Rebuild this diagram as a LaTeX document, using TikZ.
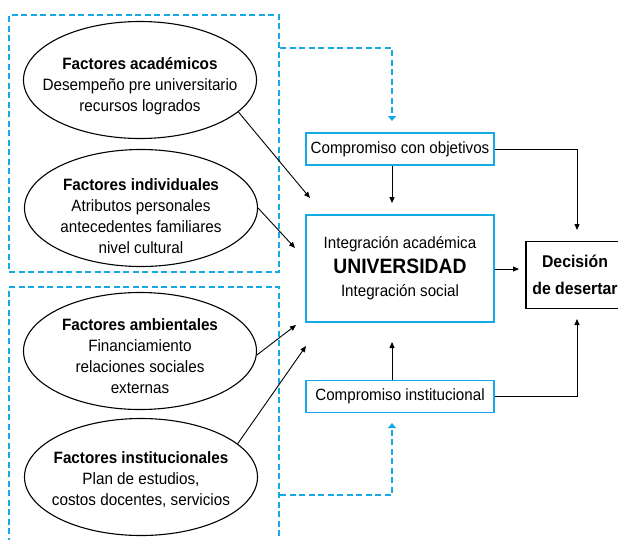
\documentclass[tikz,border=0pt]{standalone}
\usepackage{fontspec}
\setmainfont[FakeStretch=0.93]{Liberation Sans}
\usetikzlibrary{arrows.meta,shapes.geometric}
\definecolor{dblue}{RGB}{20,170,230}
\begin{document}
\begin{tikzpicture}[x=1pt,y=-1pt,
  fell/.style={draw, ellipse, minimum width=233pt, minimum height=117pt, inner sep=0pt, line width=1.1pt},
  ftxt/.style={align=center, font=\fontsize{16.4}{21}\selectfont, inner sep=0pt},
  bbox/.style={draw=dblue, line width=1.4pt, rectangle, inner sep=0pt, minimum width=188pt},
  dgroup/.style={draw=dblue, line width=2.2pt, dash pattern=on 6pt off 3.5pt, rectangle, inner sep=0pt},
  dline/.style={draw=dblue, line width=2.2pt, dash pattern=on 6pt off 3.5pt, -{Triangle[length=5pt,width=8pt]}},
  arr/.style={-{Triangle[length=6pt,width=5pt]}, line width=0.9pt}]
\useasboundingbox (0,0) rectangle (618,539);
\clip (0,0) rectangle (618,539);
% group boxes
\node[dgroup, minimum width=270pt, minimum height=257pt] (g1) at (144,143.5) {};
\node[dgroup, minimum width=270pt, minimum height=283pt] (g2) at (144,428.5) {};
% ellipses
\node[fell] (e1) at (140,80) {};
\node[fell] (e2) at (141,208) {};
\node[fell] (e3) at (140,351) {};
\node[fell] (e4) at (141,477) {};
\node[ftxt] (e1t) at (140,86) {\textbf{Factores académicos}\\Desempeño pre universitario\\recursos logrados};
\node[ftxt] (e2t) at (141,216) {\textbf{Factores individuales}\\Atributos personales\\antecedentes familiares\\nivel cultural};
\node[ftxt] (e3t) at (140,356) {\textbf{Factores ambientales}\\Financiamiento\\relaciones sociales\\externas};
\node[ftxt] (e4t) at (141,479.5) {\textbf{Factores institucionales}\\Plan de estudios,\\costos docentes, servicios};
% boxes
\node[bbox, minimum height=32pt, font=\fontsize{16.3}{20}\selectfont] (obj) at (400,149) {Compromiso con objetivos};
\node[bbox, minimum height=107pt, align=center, font=\fontsize{16.3}{23}\selectfont] (univ) at (400,268.5)
  {Integración académica\\[2pt]{\fontsize{20.8}{22}\selectfont\bfseries UNIVERSIDAD}\\Integración social};
\node[bbox, minimum height=32pt, font=\fontsize{16.3}{20}\selectfont] (ins) at (400,396.5) {Compromiso institucional};
\node[draw, line width=1.3pt, minimum width=98pt, minimum height=67pt, inner sep=0pt, align=center,
  font=\fontsize{17}{27}\selectfont\bfseries] (dec) at (575,275) {Decisión\\de desertar};
% coordinates
\coordinate (c1) at (392,48);
\coordinate (c1e) at (392,121);
\coordinate (c2) at (392,495);
\coordinate (c2e) at (392,423);
\coordinate (u1) at (392,203);
\coordinate (u2) at (392,342);
\coordinate (u3) at (519,269);
\coordinate (d1) at (577,230);
\coordinate (d2) at (577,319);
\coordinate (t1) at (310,198);
\coordinate (t2) at (295,248);
\coordinate (t3) at (296,325);
\coordinate (t4) at (306,346);
% dashed connectors
\draw[dline] (g1.east |- c1) -- (c1) -- (c1e);
\draw[dline] (g2.east |- c2) -- (c2) -- (c2e);
% black arrows
\draw[arr] (obj.south -| c1) -- (u1);
\draw[arr] (ins.north -| c1) -- (u2);
\draw[arr] (univ.east |- u3) -- (u3);
\draw[arr] (obj.east) -- (obj.east -| d1) -- (d1);
\draw[arr] (ins.east) -- (ins.east -| d2) -- (d2);
\draw[arr] (e1.-18) -- (t1);
\draw[arr] (e2.0) -- (t2);
\draw[arr] (e3.-2) -- (t3);
\draw[arr] (e4.19) -- (t4);
\end{tikzpicture}
\end{document}
